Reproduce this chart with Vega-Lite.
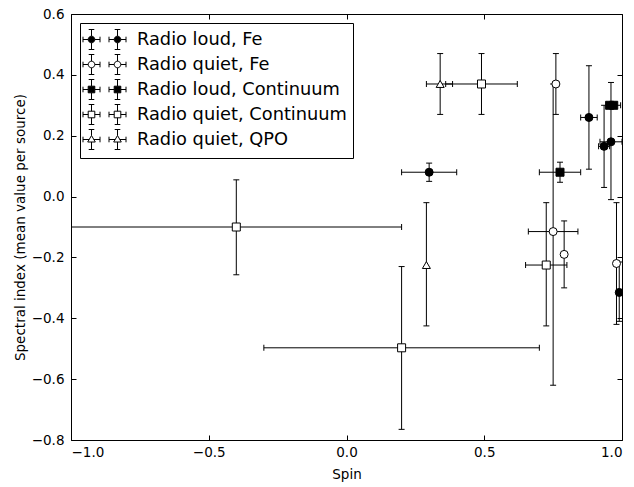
{
  "$schema": "https://vega.github.io/schema/vega-lite/v6.json",
  "width": 551,
  "height": 426,
  "autosize": {"type": "none"},
  "padding": {"left": 71, "top": 14, "right": 12, "bottom": 47},
  "background": "white",
  "config": {
    "view": {"stroke": "black", "strokeWidth": 1},
    "axis": {
      "grid": false,
      "domain": false,
      "tickColor": "black",
      "tickSize": -5,
      "tickWidth": 1,
      "labelColor": "black",
      "labelFont": "DejaVu Sans",
      "labelFontSize": 13.5,
      "titleFont": "DejaVu Sans",
      "titleFontSize": 13.5,
      "titleFontWeight": "normal",
      "titleColor": "black"
    }
  },
  "data": {
    "values": [
      {"series": "Radio loud, Fe", "x": 0.30, "y": 0.08, "xlo": 0.20, "xhi": 0.40, "ylo": 0.05, "yhi": 0.11},
      {"series": "Radio loud, Fe", "x": 0.88, "y": 0.26, "xlo": 0.85, "xhi": 0.91, "ylo": 0.09, "yhi": 0.43},
      {"series": "Radio loud, Fe", "x": 0.935, "y": 0.165, "xlo": 0.915, "xhi": 0.955, "ylo": 0.03, "yhi": 0.30},
      {"series": "Radio loud, Fe", "x": 0.96, "y": 0.18, "xlo": 0.92, "xhi": 1.0, "ylo": -0.01, "yhi": 0.375},
      {"series": "Radio loud, Fe", "x": 0.99, "y": -0.315, "xlo": 0.98, "xhi": 1.0, "ylo": -0.41, "yhi": -0.215},
      {"series": "Radio quiet, Fe", "x": 0.76, "y": 0.37, "xlo": 0.76, "xhi": 0.76, "ylo": 0.27, "yhi": 0.47},
      {"series": "Radio quiet, Fe", "x": 0.75, "y": -0.115, "xlo": 0.66, "xhi": 0.84, "ylo": -0.62, "yhi": 0.37},
      {"series": "Radio quiet, Fe", "x": 0.79, "y": -0.19, "xlo": 0.79, "xhi": 0.79, "ylo": -0.30, "yhi": -0.08},
      {"series": "Radio quiet, Fe", "x": 0.98, "y": -0.22, "xlo": 0.98, "xhi": 0.98, "ylo": -0.42, "yhi": -0.02},
      {"series": "Radio loud, Continuum", "x": 0.775, "y": 0.08, "xlo": 0.70, "xhi": 0.85, "ylo": 0.047, "yhi": 0.113},
      {"series": "Radio loud, Continuum", "x": 0.955, "y": 0.30, "xlo": 0.955, "xhi": 0.955, "ylo": 0.30, "yhi": 0.30},
      {"series": "Radio loud, Continuum", "x": 0.97, "y": 0.30, "xlo": 0.95, "xhi": 0.995, "ylo": 0.30, "yhi": 0.30},
      {"series": "Radio quiet, Continuum", "x": -0.40, "y": -0.10, "xlo": -1.0, "xhi": 0.2, "ylo": -0.257, "yhi": 0.055},
      {"series": "Radio quiet, Continuum", "x": 0.20, "y": -0.497, "xlo": -0.3, "xhi": 0.7, "ylo": -0.765, "yhi": -0.23},
      {"series": "Radio quiet, Continuum", "x": 0.49, "y": 0.37, "xlo": 0.36, "xhi": 0.62, "ylo": 0.27, "yhi": 0.47},
      {"series": "Radio quiet, Continuum", "x": 0.725, "y": -0.225, "xlo": 0.65, "xhi": 0.80, "ylo": -0.425, "yhi": -0.02},
      {"series": "Radio quiet, QPO", "x": 0.34, "y": 0.37, "xlo": 0.29, "xhi": 0.385, "ylo": 0.27, "yhi": 0.47},
      {"series": "Radio quiet, QPO", "x": 0.29, "y": -0.225, "xlo": 0.29, "xhi": 0.29, "ylo": -0.425, "yhi": -0.02}
    ]
  },
  "resolve": {
    "scale": {"shape": "independent", "fill": "independent"},
    "axis": {"x": "independent", "y": "independent"},
    "legend": {"shape": "independent", "fill": "independent"}
  },
  "layer": [
    {
      "transform": [{"filter": "datum.xlo < datum.xhi"}],
      "mark": {"type": "rule", "color": "black", "strokeWidth": 1, "clip": true},
      "encoding": {
        "x": {"field": "xlo", "type": "quantitative", "scale": {"domain": [-1, 1], "nice": false, "zero": false}, "axis": null},
        "x2": {"field": "xhi"},
        "y": {"field": "y", "type": "quantitative", "scale": {"domain": [-0.8, 0.6], "nice": false, "zero": false}, "axis": null}
      }
    },
    {
      "transform": [{"filter": "datum.ylo < datum.yhi"}],
      "mark": {"type": "rule", "color": "black", "strokeWidth": 1, "clip": true},
      "encoding": {
        "x": {"field": "x", "type": "quantitative", "scale": {"domain": [-1, 1], "nice": false, "zero": false}, "axis": null},
        "y": {"field": "ylo", "type": "quantitative", "scale": {"domain": [-0.8, 0.6], "nice": false, "zero": false}, "axis": null},
        "y2": {"field": "yhi"}
      }
    },
    {
      "transform": [{"filter": "datum.ylo < datum.yhi"}],
      "mark": {"type": "tick", "orient": "horizontal", "size": 6, "thickness": 1, "color": "black", "opacity": 1, "clip": true},
      "encoding": {
        "x": {"field": "x", "type": "quantitative", "scale": {"domain": [-1, 1], "nice": false, "zero": false}, "axis": null},
        "y": {"field": "ylo", "type": "quantitative", "scale": {"domain": [-0.8, 0.6], "nice": false, "zero": false}, "axis": null}
      }
    },
    {
      "transform": [{"filter": "datum.ylo < datum.yhi"}],
      "mark": {"type": "tick", "orient": "horizontal", "size": 6, "thickness": 1, "color": "black", "opacity": 1, "clip": true},
      "encoding": {
        "x": {"field": "x", "type": "quantitative", "scale": {"domain": [-1, 1], "nice": false, "zero": false}, "axis": null},
        "y": {"field": "yhi", "type": "quantitative", "scale": {"domain": [-0.8, 0.6], "nice": false, "zero": false}, "axis": null}
      }
    },
    {
      "transform": [{"filter": "datum.xlo < datum.xhi"}],
      "mark": {"type": "tick", "orient": "vertical", "size": 6, "thickness": 1, "color": "black", "opacity": 1, "clip": true},
      "encoding": {
        "x": {"field": "xlo", "type": "quantitative", "scale": {"domain": [-1, 1], "nice": false, "zero": false}, "axis": null},
        "y": {"field": "y", "type": "quantitative", "scale": {"domain": [-0.8, 0.6], "nice": false, "zero": false}, "axis": null}
      }
    },
    {
      "transform": [{"filter": "datum.xlo < datum.xhi"}],
      "mark": {"type": "tick", "orient": "vertical", "size": 6, "thickness": 1, "color": "black", "opacity": 1, "clip": true},
      "encoding": {
        "x": {"field": "xhi", "type": "quantitative", "scale": {"domain": [-1, 1], "nice": false, "zero": false}, "axis": null},
        "y": {"field": "y", "type": "quantitative", "scale": {"domain": [-0.8, 0.6], "nice": false, "zero": false}, "axis": null}
      }
    },
    {
      "mark": {"type": "point", "filled": true, "stroke": "black", "strokeWidth": 1, "opacity": 1, "size": 64, "clip": true},
      "encoding": {
        "x": {"field": "x", "type": "quantitative", "scale": {"domain": [-1, 1], "nice": false, "zero": false},
          "axis": {"orient": "bottom", "values": [-1, -0.5, 0, 0.5, 1], "format": ".1f", "title": "Spin", "labelPadding": 10, "titlePadding": 9}},
        "y": {"field": "y", "type": "quantitative", "scale": {"domain": [-0.8, 0.6], "nice": false, "zero": false},
          "axis": {"orient": "left", "values": [-0.8, -0.6, -0.4, -0.2, 0, 0.2, 0.4, 0.6], "format": ".1f", "title": "Spectral index (mean value per source)", "labelPadding": 12, "titlePadding": 4}},
        "shape": {"field": "series", "type": "nominal", "legend": null,
          "scale": {"domain": ["Radio loud, Fe", "Radio quiet, Fe", "Radio loud, Continuum", "Radio quiet, Continuum", "Radio quiet, QPO"],
            "range": ["circle", "circle", "square", "square", "triangle-up"]}},
        "fill": {"field": "series", "type": "nominal", "legend": null,
          "scale": {"domain": ["Radio loud, Fe", "Radio quiet, Fe", "Radio loud, Continuum", "Radio quiet, Continuum", "Radio quiet, QPO"],
            "range": ["black", "white", "black", "white", "white"]}}
      }
    },
    {
      "mark": {"type": "point", "filled": true, "stroke": "black", "strokeWidth": 1, "opacity": 1, "size": 0},
      "encoding": {
        "x": {"field": "x", "type": "quantitative", "scale": {"domain": [-1, 1], "nice": false, "zero": false},
          "axis": {"orient": "top", "values": [-1, -0.5, 0, 0.5, 1], "labels": false, "title": null}},
        "y": {"field": "y", "type": "quantitative", "scale": {"domain": [-0.8, 0.6], "nice": false, "zero": false},
          "axis": {"orient": "right", "values": [-0.8, -0.6, -0.4, -0.2, 0, 0.2, 0.4, 0.6], "labels": false, "title": null}},
        "shape": {"field": "series", "type": "nominal",
          "scale": {"domain": ["Radio loud, Fe", "Radio quiet, Fe", "Radio loud, Continuum", "Radio quiet, Continuum", "Radio quiet, QPO"],
            "range": [
              "M-2.15,0L-1.63,0M-0.97,0L-0.45,0M-1.3,-1L-1.3,-0.33M-1.3,0.33L-1.3,1M-1.58,-1L-1.02,-1M-1.58,1L-1.02,1M-2.15,-0.28L-2.15,0.28M-0.45,-0.28L-0.45,0.28M0.45,0L0.97,0M1.63,0L2.15,0M1.3,-1L1.3,-0.33M1.3,0.33L1.3,1M1.02,-1L1.58,-1M1.02,1L1.58,1M0.45,-0.28L0.45,0.28M2.15,-0.28L2.15,0.28M-0.97,0A0.33,0.33 0 1,1 -1.63,0A0.33,0.33 0 1,1 -0.97,0ZM1.63,0A0.33,0.33 0 1,1 0.97,0A0.33,0.33 0 1,1 1.63,0Z",
              "M-2.15,0L-1.63,0M-0.97,0L-0.45,0M-1.3,-1L-1.3,-0.33M-1.3,0.33L-1.3,1M-1.58,-1L-1.02,-1M-1.58,1L-1.02,1M-2.15,-0.28L-2.15,0.28M-0.45,-0.28L-0.45,0.28M0.45,0L0.97,0M1.63,0L2.15,0M1.3,-1L1.3,-0.33M1.3,0.33L1.3,1M1.02,-1L1.58,-1M1.02,1L1.58,1M0.45,-0.28L0.45,0.28M2.15,-0.28L2.15,0.28M-0.97,0A0.33,0.33 0 1,1 -1.63,0A0.33,0.33 0 1,1 -0.97,0ZM1.63,0A0.33,0.33 0 1,1 0.97,0A0.33,0.33 0 1,1 1.63,0Z",
              "M-2.15,0L-1.63,0M-0.97,0L-0.45,0M-1.3,-1L-1.3,-0.33M-1.3,0.33L-1.3,1M-1.58,-1L-1.02,-1M-1.58,1L-1.02,1M-2.15,-0.28L-2.15,0.28M-0.45,-0.28L-0.45,0.28M0.45,0L0.97,0M1.63,0L2.15,0M1.3,-1L1.3,-0.33M1.3,0.33L1.3,1M1.02,-1L1.58,-1M1.02,1L1.58,1M0.45,-0.28L0.45,0.28M2.15,-0.28L2.15,0.28M-1.63,-0.33L-0.97,-0.33L-0.97,0.33L-1.63,0.33ZM0.97,-0.33L1.63,-0.33L1.63,0.33L0.97,0.33Z",
              "M-2.15,0L-1.63,0M-0.97,0L-0.45,0M-1.3,-1L-1.3,-0.33M-1.3,0.33L-1.3,1M-1.58,-1L-1.02,-1M-1.58,1L-1.02,1M-2.15,-0.28L-2.15,0.28M-0.45,-0.28L-0.45,0.28M0.45,0L0.97,0M1.63,0L2.15,0M1.3,-1L1.3,-0.33M1.3,0.33L1.3,1M1.02,-1L1.58,-1M1.02,1L1.58,1M0.45,-0.28L0.45,0.28M2.15,-0.28L2.15,0.28M-1.63,-0.33L-0.97,-0.33L-0.97,0.33L-1.63,0.33ZM0.97,-0.33L1.63,-0.33L1.63,0.33L0.97,0.33Z",
              "M-2.15,0L-1.53,0M-1.07,0L-0.45,0M-1.3,-1L-1.3,-0.4M-1.3,0.25L-1.3,1M-1.58,-1L-1.02,-1M-1.58,1L-1.02,1M-2.15,-0.28L-2.15,0.28M-0.45,-0.28L-0.45,0.28M0.45,0L1.07,0M1.53,0L2.15,0M1.3,-1L1.3,-0.4M1.3,0.25L1.3,1M1.02,-1L1.58,-1M1.02,1L1.58,1M0.45,-0.28L0.45,0.28M2.15,-0.28L2.15,0.28M-1.3,-0.4L-0.92,0.25L-1.68,0.25ZM1.3,-0.4L1.68,0.25L0.92,0.25Z"
            ]},
          "legend": {"title": null, "orient": "top-left", "offset": 9, "padding": 6, "strokeColor": "black", "fillColor": "white", "cornerRadius": 0,
            "symbolSize": 400, "symbolStrokeColor": "black", "symbolStrokeWidth": 1, "symbolOpacity": 1, "symbolOffset": 8, "labelOffset": 22,
            "labelFont": "DejaVu Sans", "labelFontSize": 17.8, "labelColor": "black", "rowPadding": 0, "labelLimit": 400,
            "encode": {"symbols": {"update": {"stroke": {"value": "black"}, "strokeWidth": {"value": 1}, "strokeOpacity": {"value": 1}}}}}},
        "fill": {"field": "series", "type": "nominal",
          "scale": {"domain": ["Radio loud, Fe", "Radio quiet, Fe", "Radio loud, Continuum", "Radio quiet, Continuum", "Radio quiet, QPO"],
            "range": ["black", "white", "black", "white", "white"]},
          "legend": {"title": null, "orient": "top-left", "offset": 9, "padding": 6, "strokeColor": "black", "fillColor": "white", "cornerRadius": 0,
            "symbolSize": 400, "symbolStrokeColor": "black", "symbolStrokeWidth": 1, "symbolOpacity": 1, "symbolOffset": 8, "labelOffset": 22,
            "labelFont": "DejaVu Sans", "labelFontSize": 17.8, "labelColor": "black", "rowPadding": 0, "labelLimit": 400,
            "encode": {"symbols": {"update": {"stroke": {"value": "black"}, "strokeWidth": {"value": 1}, "strokeOpacity": {"value": 1}}}}}}
      }
    }
  ]
}
